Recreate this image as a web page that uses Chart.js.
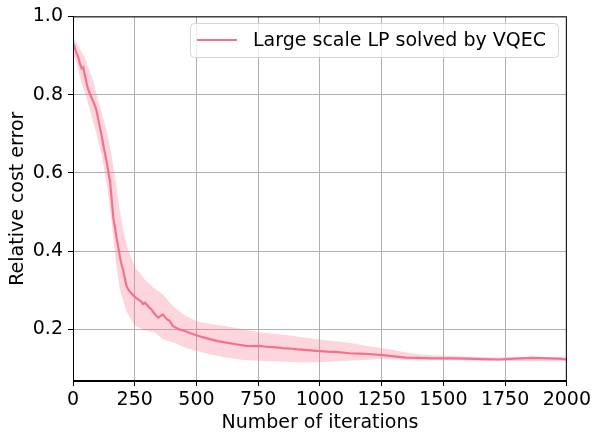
<!DOCTYPE html>
<html>
<head>
<meta charset="utf-8">
<script src="https://cdn.jsdelivr.net/npm/chart.js@4"></script>
<style>
  html, body { margin: 0; padding: 0; background: #fff; }
  #costChart { display: block; }
</style>
</head>
<body>
<canvas id="costChart" width="594" height="437"></canvas>
<script>
// Mean relative cost error over iterations
const meanIters = [0, 4, 12, 21, 28, 35, 42, 48, 55, 62, 70, 82, 90, 96, 103, 109, 116, 122, 128, 133,
  140, 147, 150, 157, 163, 170, 176, 183, 190, 197, 203, 210, 217, 224, 230, 240, 250, 257, 265, 275,
  283, 291, 300, 310, 318, 330, 345, 352, 358, 365, 372, 380, 392, 405, 412, 430, 453, 475, 500, 525,
  554, 585, 621, 660, 702, 730, 756, 790, 823, 848, 880, 910, 950, 985, 1030, 1075, 1119, 1160, 1200,
  1253, 1300, 1350, 1400, 1450, 1523, 1600, 1650, 1725, 1790, 1859, 1920, 1970, 2000];
const meanError = [0.93, 0.926, 0.91, 0.896, 0.88, 0.867, 0.87, 0.85, 0.83, 0.812, 0.80, 0.782, 0.77, 0.757, 0.735, 0.715, 0.695, 0.673, 0.655, 0.639,
  0.615, 0.588, 0.58, 0.53, 0.487, 0.46, 0.435, 0.411, 0.385, 0.365, 0.352, 0.33, 0.31, 0.302, 0.297, 0.29, 0.283, 0.28, 0.276, 0.272,
  0.265, 0.268, 0.262, 0.255, 0.251, 0.24, 0.23, 0.233, 0.236, 0.238, 0.232, 0.226, 0.221, 0.208, 0.206, 0.2, 0.196, 0.19, 0.185, 0.18,
  0.175, 0.17, 0.166, 0.162, 0.158, 0.157, 0.158, 0.155, 0.154, 0.152, 0.151, 0.149, 0.147, 0.145, 0.143, 0.142, 0.139, 0.138, 0.137,
  0.134, 0.131, 0.128, 0.127, 0.126, 0.126, 0.125, 0.124, 0.123, 0.125, 0.127, 0.126, 0.125, 0.123];

// Upper edge of the spread band
const upperIters = [0, 20, 48, 65, 82, 100, 122, 140, 160, 175, 190, 205, 224, 250, 270, 291, 330, 365, 405, 450,
  500, 560, 621, 690, 756, 830, 910, 985, 1050, 1119, 1186, 1280, 1340, 1387, 1450, 1523, 1600, 1725, 1850, 2000];
const upperError = [0.952, 0.925, 0.895, 0.865, 0.835, 0.79, 0.74, 0.70, 0.63, 0.57, 0.50, 0.45, 0.403, 0.36, 0.345, 0.327, 0.305, 0.289, 0.259, 0.237,
  0.221, 0.213, 0.208, 0.2, 0.192, 0.188, 0.182, 0.175, 0.17, 0.166, 0.158, 0.149, 0.142, 0.137, 0.134, 0.132, 0.13, 0.128, 0.13, 0.128];

// Lower edge of the spread band
const lowerIters = [0, 15, 28, 55, 89, 116, 129, 143, 155, 165, 175, 190, 217, 250, 290, 331, 365, 412, 460, 500,
  560, 621, 690, 756, 850, 910, 1000, 1119, 1253, 1387, 1523, 1725, 2000];
const lowerError = [0.905, 0.88, 0.845, 0.79, 0.715, 0.645, 0.60, 0.545, 0.48, 0.42, 0.365, 0.30, 0.245, 0.21, 0.198, 0.192, 0.175, 0.165, 0.152, 0.145,
  0.135, 0.128, 0.122, 0.12, 0.117, 0.116, 0.116, 0.12, 0.124, 0.121, 0.121, 0.119, 0.119];

const xTicks = [0, 250, 500, 750, 1000, 1250, 1500, 1750, 2000];
const yTicks = [0.2, 0.4, 0.6, 0.8, 1.0];
const seriesLabel = "Large scale LP solved by VQEC";

const lineColor = "#f5718b";
const bandColor = "rgba(247, 118, 142, 0.3)";
const font = "'DejaVu Sans', sans-serif";
const fontSize = 19;

const toPoints = (xs, ys) => xs.map((x, i) => ({ x: x, y: ys[i] }));

// top/right spines plus a matplotlib-style legend box inside the axes
const framePlugin = {
  id: "frame",
  afterDraw(chart) {
    const { ctx, chartArea: a } = chart;
    ctx.save();
    ctx.strokeStyle = "#000";
    ctx.lineWidth = 1;
    ctx.strokeRect(a.left + 0.5, a.top + 0.5, a.right - a.left - 1, a.bottom - a.top - 1);

    const bx = 190, by = 23, bw = 368, bh = 34, r = 4;
    ctx.beginPath();
    ctx.roundRect(bx + 0.5, by + 0.5, bw, bh, r);
    ctx.fillStyle = "rgba(255,255,255,0.8)";
    ctx.fill();
    ctx.strokeStyle = "rgba(204,204,204,0.8)";
    ctx.stroke();

    ctx.beginPath();
    ctx.moveTo(197, 40);
    ctx.lineTo(237, 40);
    ctx.strokeStyle = lineColor;
    ctx.lineWidth = 2;
    ctx.stroke();

    ctx.fillStyle = "#000";
    ctx.font = fontSize + "px " + font;
    ctx.textBaseline = "middle";
    ctx.fillText(seriesLabel, 253, 41);
    ctx.restore();
  }
};

new Chart(document.getElementById("costChart"), {
  type: "line",
  data: {
    datasets: [
      {
        label: seriesLabel,
        data: toPoints(meanIters, meanError),
        borderColor: lineColor,
        borderWidth: 2.2,
        pointRadius: 0,
        fill: false,
        order: 0
      },
      {
        label: "upper",
        data: toPoints(upperIters, upperError),
        borderWidth: 0,
        borderColor: "rgba(0,0,0,0)",
        backgroundColor: bandColor,
        pointRadius: 0,
        fill: 2,
        order: 1
      },
      {
        label: "lower",
        data: toPoints(lowerIters, lowerError),
        borderWidth: 0,
        borderColor: "rgba(0,0,0,0)",
        pointRadius: 0,
        fill: false,
        order: 2
      }
    ]
  },
  options: {
    responsive: false,
    animation: false,
    layout: { padding: { top: 14, right: 26, left: 0, bottom: 0 } },
    plugins: {
      legend: { display: false },
      tooltip: { enabled: false }
    },
    scales: {
      x: {
        type: "linear",
        min: 0,
        max: 2000,
        afterFit: s => { s.height = 56; },
        afterBuildTicks: s => { s.ticks = xTicks.map(v => ({ value: v })); },
        ticks: {
          color: "#000",
          font: { family: font, size: fontSize },
          padding: 3,
          maxRotation: 0,
          callback: v => String(v)
        },
        grid: { color: "#b0b0b0", lineWidth: 1, tickLength: 5, tickColor: "#000" },
        border: { color: "#000", width: 1 },
        title: {
          display: true,
          text: "Number of iterations",
          color: "#000",
          font: { family: font, size: fontSize },
          padding: { top: 0, bottom: 2.5 }
        }
      },
      y: {
        type: "linear",
        min: 0.068,
        max: 1.0,
        afterFit: s => { s.width = 73; },
        afterBuildTicks: s => { s.ticks = yTicks.map(v => ({ value: v })); },
        ticks: {
          color: "#000",
          font: { family: font, size: fontSize },
          padding: 5,
          callback: v => v.toFixed(1)
        },
        grid: { color: "#b0b0b0", lineWidth: 1, tickLength: 5, tickColor: "#000" },
        border: { color: "#000", width: 1 },
        title: {
          display: true,
          text: "Relative cost error",
          color: "#000",
          font: { family: font, size: fontSize },
          padding: { top: 6.5, bottom: 0 }
        }
      }
    }
  },
  plugins: [framePlugin]
});
</script>
</body>
</html>
